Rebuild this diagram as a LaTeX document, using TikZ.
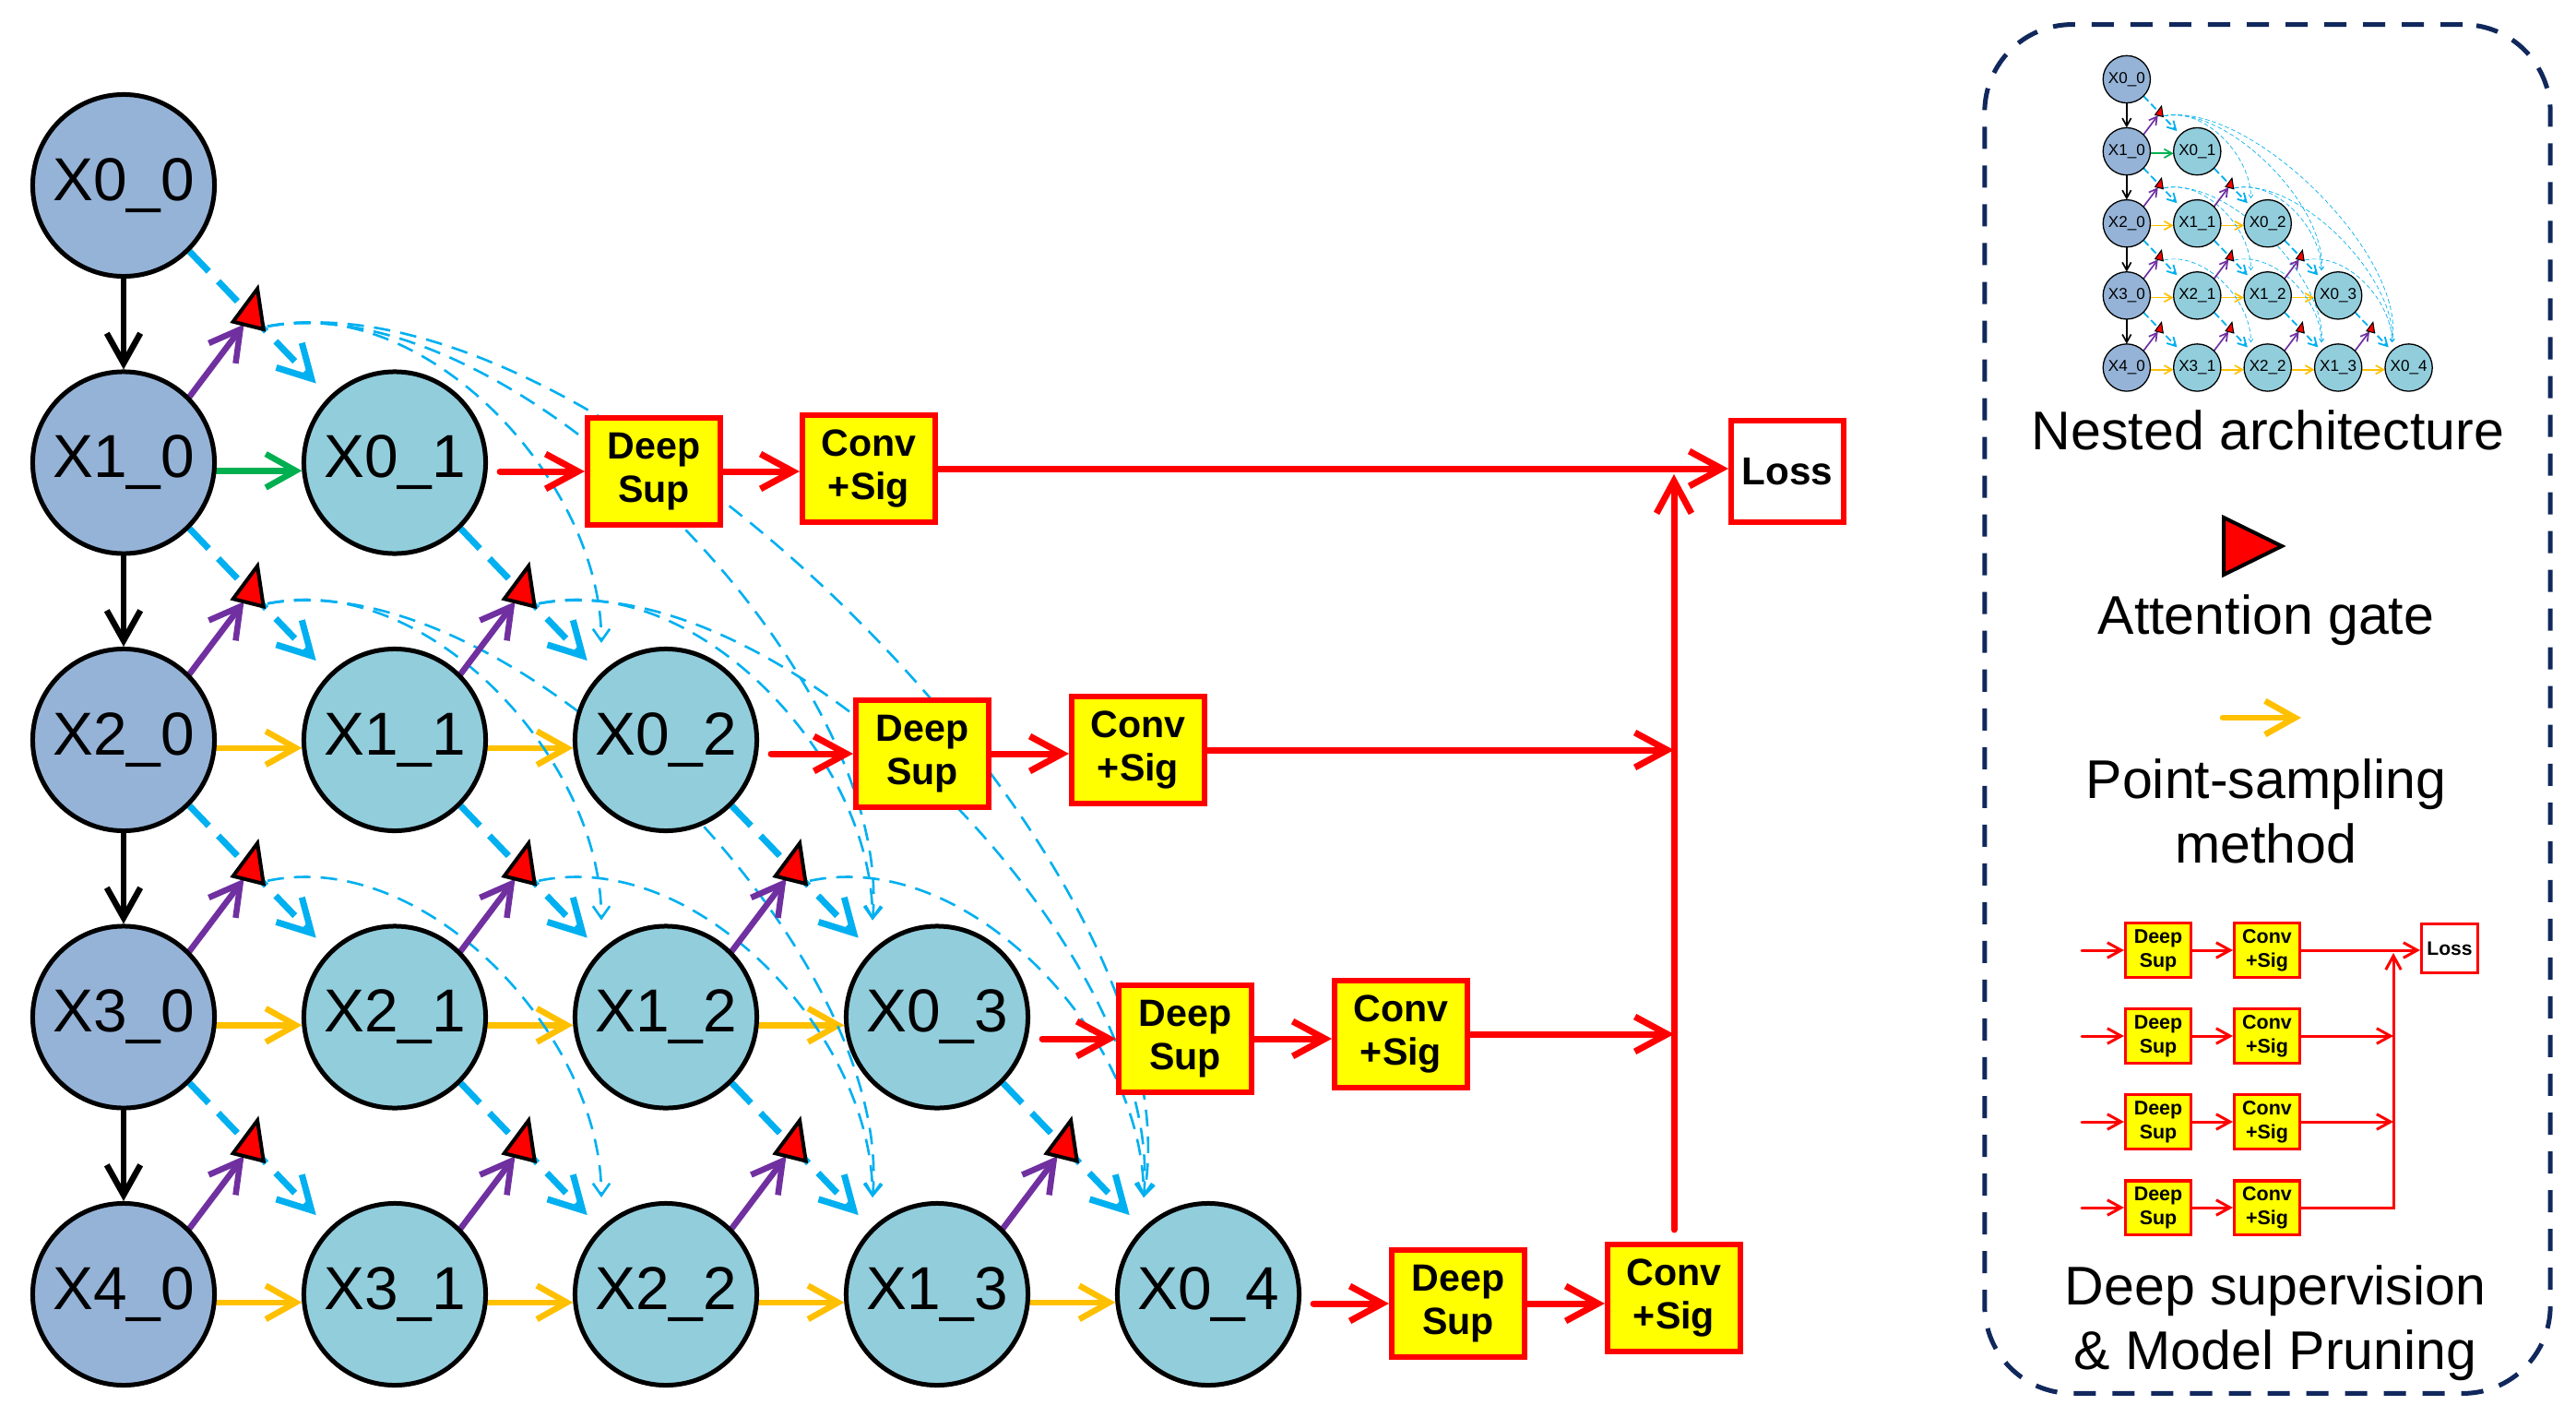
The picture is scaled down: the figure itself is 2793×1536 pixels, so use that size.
\documentclass[tikz,border=0pt]{standalone}
\usepackage{fontspec}
\setmainfont{Liberation Sans}
\usetikzlibrary{arrows.meta,shapes.geometric,backgrounds,calc}

\definecolor{darknode}{RGB}{149,179,215}
\definecolor{lightnode}{RGB}{146,205,220}
\definecolor{skipblue}{RGB}{0,176,240}
\definecolor{attpurple}{RGB}{112,48,160}
\definecolor{upgreen}{RGB}{0,176,80}
\definecolor{psyellow}{RGB}{255,192,0}
\definecolor{dsred}{RGB}{255,0,0}
\definecolor{dsyellow}{RGB}{255,255,0}
\definecolor{framenavy}{RGB}{16,40,92}

\newcommand\setgs[1]{%
  \pgfmathsetmacro\lwNode{0.05*#1}%
  \pgfmathsetmacro\lwArrow{0.065*#1}%
  \pgfmathsetmacro\lwThick{0.07*#1}%
  \pgfmathsetmacro\lwThin{0.026*#1}%
  \pgfmathsetmacro\lwGate{0.04*#1}%
  \pgfmathsetmacro\thickOn{0.30*#1}%
  \pgfmathsetmacro\thickOff{0.15*#1}%
  \pgfmathsetmacro\thinOn{0.18*#1}%
  \pgfmathsetmacro\thinOff{0.11*#1}%
  \pgfmathsetmacro\shThick{0.2*#1}%
}

\tikzset{
  unetnode/.style={circle, draw=black, line width=\lwNode cm, minimum size=1.97cm, inner sep=0pt, font=\fontsize{18.7}{20}\selectfont},
  gate/.style={isosceles triangle, isosceles triangle stretches, draw=black, fill=red, line width=\lwGate cm, minimum width=0.34cm, minimum height=0.41cm, inner sep=0pt, outer sep=0pt, rotate=76},
  legendgate/.style={isosceles triangle, isosceles triangle stretches, draw=black, fill=red, line width=0.04cm, minimum width=0.62cm, minimum height=0.63cm, inner sep=0pt, outer sep=0pt},
  solidarrow/.style={line width=\lwArrow cm, line cap=round, line join=round, -{Straight Barb[length=0pt 5, width=0pt 5.6]}},
  downarrow/.style={solidarrow, draw=black},
  attarrow/.style={solidarrow, draw=attpurple},
  thickskip/.style={draw=skipblue, line width=\lwThick cm, dash pattern=on \thickOn cm off \thickOff cm, shorten >=\shThick cm, -{Straight Barb[length=0pt 5, width=0pt 5.5]}},
  thinskip/.style={draw=skipblue, line width=\lwThin cm, dash pattern=on \thinOn cm off \thinOff cm, -{Straight Barb[length=0pt 5, width=0pt 7]}},
  dsbox/.style={draw=dsred, fill=dsyellow, line width=0.06cm, minimum width=1.44cm, minimum height=1.16cm, inner sep=0pt, align=center, font=\fontsize{11.7}{13.2}\selectfont\bfseries},
  lossbox/.style={draw=dsred, fill=white, line width=0.06cm, minimum width=1.22cm, minimum height=1.10cm, inner sep=0pt, font=\fontsize{12}{14}\selectfont\bfseries},
  redarrow/.style={draw=dsred, line width=0.07cm, line cap=round, line join=round, -{Straight Barb[length=0pt 5, width=0pt 5.4]}},
  mdsbox/.style={draw=dsred, fill=dsyellow, line width=0.03cm, minimum width=0.71cm, minimum height=0.58cm, inner sep=0pt, align=center, font=\fontsize{6.1}{7.4}\selectfont\bfseries},
  mlossbox/.style={draw=dsred, fill=white, line width=0.03cm, minimum width=0.61cm, minimum height=0.53cm, inner sep=0pt, font=\fontsize{6}{7}\selectfont\bfseries},
  mredarrow/.style={draw=dsred, line width=0.03cm, line cap=round, -{Straight Barb[length=0pt 5, width=0pt 5.5]}},
  legtext/.style={font=\fontsize{16.8}{20}\selectfont, inner sep=0pt, anchor=base},
  legendframe/.style={draw=framenavy, line width=0.05cm, dash pattern=on 0.24cm off 0.18cm, rounded corners=0.95cm, minimum width=6.13cm, minimum height=14.83cm, inner sep=0pt},
}

\newcommand\nestedgrid{%
  \foreach \rr in {0,...,4}{%
    \foreach \cc in {0,...,\rr}{%
      \pgfmathtruncatemacro\lv{\rr-\cc}%
      \ifnum\cc=0
        \node[unetnode, fill=darknode] (x\lv\cc) at ({134+294*\cc},{201+300.5*\rr}) {X\lv\_\cc};%
      \else
        \node[unetnode, fill=lightnode] (x\lv\cc) at ({134+294*\cc},{201+300.5*\rr}) {X\lv\_\cc};%
      \fi
    }%
  }%
  \foreach \rr in {1,...,4}{%
    \pgfmathtruncatemacro\rlast{\rr-1}%
    \foreach \cc in {0,...,\rlast}{%
      \pgfmathtruncatemacro\lv{\rr-1-\cc}%
      \pgfmathtruncatemacro\cn{\cc+1}%
      \node[gate] (g\rr\cc) at ($(x\lv\cc.-45)!0.44!(x\lv\cn.135)$) {};%
    }%
  }%
  \begin{scope}[on background layer]
    \foreach \ua/\ub in {0/1,1/2,2/3,3/4}{%
      \draw[downarrow] (x\ua0) -- (x\ub0);
    }%
    \draw[solidarrow, draw=upgreen] (x10.-5) -- (x01.185);
    \foreach \rr in {2,3,4}{%
      \pgfmathtruncatemacro\rlast{\rr-1}%
      \foreach \cc in {0,...,\rlast}{%
        \pgfmathtruncatemacro\lv{\rr-\cc}%
        \pgfmathtruncatemacro\lvn{\rr-\cc-1}%
        \pgfmathtruncatemacro\cn{\cc+1}%
        \draw[solidarrow, draw=psyellow] (x\lv\cc.-5) -- (x\lvn\cn.185);
      }%
    }%
    \foreach \rr in {1,...,4}{%
      \pgfmathtruncatemacro\rlast{\rr-1}%
      \foreach \cc in {0,...,\rlast}{%
        \pgfmathtruncatemacro\lv{\rr-1-\cc}%
        \pgfmathtruncatemacro\cn{\cc+1}%
        \pgfmathtruncatemacro\pl{\rr-\cc}%
        \draw[thickskip] (x\lv\cc.-45) -- (x\lv\cn.135);
        \draw[attarrow] (x\pl\cc.45) -- (g\rr\cc);
        \pgfmathtruncatemacro\kmin{\cc+2}%
        \pgfmathtruncatemacro\kmax{4-\lv}%
        \ifnum\kmin>\kmax\relax\else
          \foreach \kk in {\kmin,...,\kmax}{%
            \pgfmathtruncatemacro\dd{\kk-\cc}%
            \ifnum\dd=2 \def\cout{12}\def\cin{90}\def\loose{0.9}%
            \else\ifnum\dd=3 \def\cout{10}\def\cin{85}\def\loose{0.75}%
            \else \def\cout{10}\def\cin{80}\def\loose{0.7}\fi\fi
            \draw[thinskip] ([shift={(18,12)}]g\rr\cc.center) to[out=\cout,in=\cin,looseness=\loose] ([shift={(-70,-105)}]x\lv\kk.center);
          }%
        \fi
      }%
    }%
  \end{scope}
}

\begin{document}
\begin{tikzpicture}[x=0.01cm, y=-0.01cm]
\useasboundingbox (0,0) rectangle (2793,1536);
\begin{scope}[on background layer]
  \fill[white] (0,0) rectangle (2793,1536);
\end{scope}

% ---------- main nested architecture ----------
\setgs{1}
\nestedgrid

% ---------- deep supervision chain ----------
\node[dsbox] (ds1) at (709,511) {Deep\\Sup};
\node[dsbox] (cs1) at (942,508) {Conv\\+Sig};
\node[dsbox] (ds2) at (1000,817) {Deep\\Sup};
\node[dsbox] (cs2) at (1234,813) {Conv\\+Sig};
\node[dsbox] (ds3) at (1285,1126) {Deep\\Sup};
\node[dsbox] (cs3) at (1519,1121) {Conv\\+Sig};
\node[dsbox] (ds4) at (1581,1413) {Deep\\Sup};
\node[dsbox] (cs4) at (1815,1407) {Conv\\+Sig};
\node[lossbox] (loss) at (1938,511) {Loss};
\coordinate (bus) at (1815,514);

\draw[redarrow] ($(x01.east |- ds1.west)+(13,0)$) -- (ds1.west);
\draw[redarrow] (ds1.east) -- (ds1.east -| cs1.west);
\draw[redarrow] (cs1.east) -- (cs1.east -| loss.west);
\draw[redarrow] ($(x02.east |- ds2.west)+(13,0)$) -- (ds2.west);
\draw[redarrow] (ds2.east) -- (ds2.east -| cs2.west);
\draw[redarrow] (cs2.east) -- (cs2.east -| bus);
\draw[redarrow] ($(x03.east |- ds3.west)+(13,0)$) -- (ds3.west);
\draw[redarrow] (ds3.east) -- (ds3.east -| cs3.west);
\draw[redarrow] (cs3.east) -- (cs3.east -| bus);
\draw[redarrow] ($(x04.east |- ds4.west)+(13,0)$) -- (ds4.west);
\draw[redarrow] (ds4.east) -- (ds4.east -| cs4.west);
\draw[redarrow] ($(cs4.north)+(0,-13)$) -- (bus);

% ---------- legend panel ----------
\node[legendframe] (frame) at (2458.5,768.5) {};

\begin{scope}[shift={(2271,33.7)}, scale=0.26, transform shape, name prefix=m-]
  \setgs{0.26}
  \nestedgrid
\end{scope}
\node[legtext] (nestedlbl) at (2459,487) {Nested architecture};

\node[legendgate, anchor=west] (leggate) at (2411,592) {};
\node[legtext] (attlbl) at (2457,687) {Attention gate};

\coordinate (ys) at (2410,778);
\coordinate (ye) at (2495,778);
\draw[solidarrow, draw=psyellow] (ys) -- (ye);
\node[legtext] (pslbl1) at (2457,865) {Point-sampling};
\node[legtext] (pslbl2) at (2457,935) {method};

\foreach \rr/\yy in {1/1030,2/1123,3/1216,4/1309}{%
  \coordinate (min\rr) at (2257,\yy);
  \node[mdsbox] (mds\rr) at (2340,\yy) {Deep\\Sup};
  \node[mdsbox] (mcs\rr) at (2458,\yy) {Conv\\+Sig};
  \draw[mredarrow] (min\rr) -- (mds\rr.west);
  \draw[mredarrow] (mds\rr.east) -- (mcs\rr.west);
}
\node[mlossbox] (mloss) at (2656,1028) {Loss};
\coordinate (mbus) at (2595,1033);
\draw[mredarrow] (mcs1.east) -- (mcs1.east -| mloss.west);
\draw[mredarrow] (mcs2.east) -- (mcs2.east -| mbus);
\draw[mredarrow] (mcs3.east) -- (mcs3.east -| mbus);
\draw[mredarrow] (mcs4.east) -- (mcs4.east -| mbus) -- (mbus);

\node[legtext] (dslbl1) at (2467,1414) {Deep supervision};
\node[legtext] (dslbl2) at (2467,1484) {\& Model Pruning};
\end{tikzpicture}
\end{document}
